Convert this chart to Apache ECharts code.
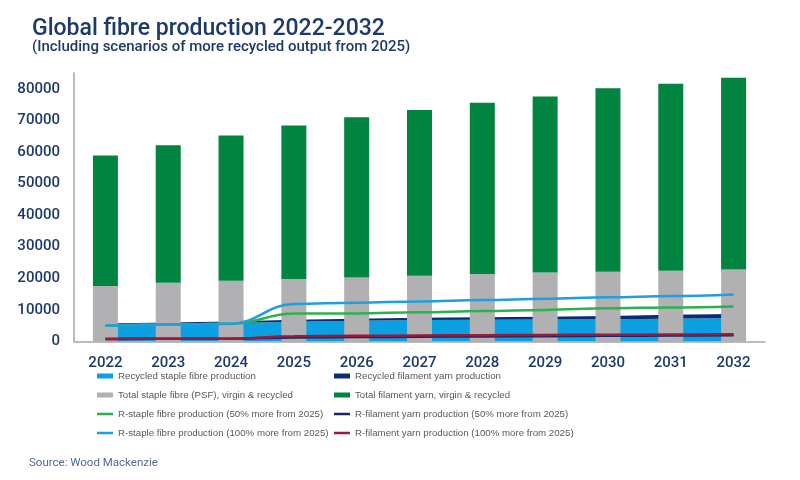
<!DOCTYPE html>
<html>
<head>
<meta charset="utf-8">
<script src="https://cdn.jsdelivr.net/npm/echarts@6/dist/echarts.min.js"></script>
<style>
  html, body { margin: 0; padding: 0; background: #fff; }
  #chart { width: 800px; height: 480px; }
</style>
</head>
<body>
<div id="chart"></div>
<script>
// categories
var years = ['2022', '2023', '2024', '2025', '2026', '2027', '2028', '2029', '2030', '2031', '2032'];

// bars (stacked): staple fibre at the bottom, filament yarn on top
var totalStaple = [17550, 18600, 19230, 19760, 20290, 20800, 21340, 21870, 22080, 22400, 22820];
var totalFilament = [41350, 43500, 45970, 48640, 50710, 52500, 54260, 55730, 58120, 59200, 60680];

// areas (stacked) behind the bars
var recStaple = [5500, 5630, 5850, 6270, 6580, 6800, 6900, 6950, 7010, 7220, 7400];
var recFilament = [200, 400, 450, 600, 650, 700, 750, 900, 1100, 1250, 1300];

// scenario lines
var rStaple50 = [5000, 5400, 5600, 8850, 8900, 9250, 9650, 10000, 10500, 10800, 11100];
var rFilament50 = [800, 850, 900, 1250, 1400, 1500, 1600, 1700, 1800, 1900, 1950];
var rStaple100 = [5000, 5400, 5600, 11900, 12300, 12700, 13100, 13500, 14000, 14400, 14900];
var rFilament100 = [800, 850, 900, 1650, 1800, 1900, 2000, 2050, 2150, 2200, 2280];

var yTicks = { min: 0, max: 85000, interval: 10000 };

var navy = '#1d3a6b';
var lineIcon = 'path://M0,0H16V2.5H0Z';

var names = {
    recStaple: 'Recycled staple fibre production',
    recFilament: 'Recycled filament yarn production',
    totStaple: 'Total staple fibre (PSF), virgin & recycled',
    totFilament: 'Total filament yarn, virgin & recycled',
    rs50: 'R-staple fibre production (50% more from 2025)',
    rf50: 'R-filament yarn production (50% more from 2025)',
    rs100: 'R-staple fibre production (100% more from 2025)',
    rf100: 'R-filament yarn production (100% more from 2025)'
};
var colors = {
    recStaple: '#0ba0e2',
    recFilament: '#0b2c6e',
    totStaple: '#b1b1b3',
    totFilament: '#00843f',
    rs50: '#2bb24c',
    rf50: '#14296a',
    rs100: '#1f9ee0',
    rf100: '#9b1a3a'
};

var legendText = {
    fontFamily: "'Liberation Sans', Arial, sans-serif",
    fontSize: 9.7,
    color: '#595959',
    lineHeight: 14
};

function legendItem(key, icon) {
    return { name: names[key], icon: icon, itemStyle: { color: colors[key] } };
}

var chart = echarts.init(document.getElementById('chart'));

var option = {
    animation: false,
    backgroundColor: '#fff',
    textStyle: { fontFamily: 'Roboto, sans-serif' },
    title: [{
        text: 'Global fibre production 2022-2032',
        left: 32,
        top: 18,
        padding: 0,
        textStyle: { fontSize: 23, fontWeight: 500, color: navy }
    }, {
        text: '(Including scenarios of more recycled output from 2025)',
        left: 32,
        top: 40,
        padding: 0,
        textStyle: { fontSize: 15, fontWeight: 500, color: navy }
    }, {
        text: 'Source: Wood Mackenzie',
        left: 29,
        top: 457,
        padding: 0,
        textStyle: { fontSize: 11.5, fontWeight: 400, color: '#4f6c99' }
    }],
    legend: [{
        orient: 'vertical',
        left: 92,
        top: 364,
        itemWidth: 16,
        itemHeight: 5,
        itemGap: 5,
        textStyle: legendText,
        data: [
            legendItem('recStaple', 'rect'),
            legendItem('totStaple', 'rect'),
            legendItem('rs50', lineIcon),
            legendItem('rs100', lineIcon)
        ]
    }, {
        orient: 'vertical',
        left: 329,
        top: 364,
        itemWidth: 16,
        itemHeight: 5,
        itemGap: 5,
        textStyle: legendText,
        data: [
            legendItem('recFilament', 'rect'),
            legendItem('totFilament', 'rect'),
            legendItem('rf50', lineIcon),
            legendItem('rf100', lineIcon)
        ]
    }],
    grid: { left: 74, right: 35, top: 73, bottom: 138.5 },
    xAxis: {
        type: 'category',
        data: years,
        axisLine: { lineStyle: { color: '#a6a6a6', width: 1.5 } },
        axisTick: { show: false },
        axisLabel: { fontSize: 15, fontWeight: 500, color: navy, margin: 14.5 }
    },
    yAxis: {
        type: 'value',
        min: yTicks.min,
        max: yTicks.max,
        interval: yTicks.interval,
        splitLine: { show: false },
        axisLine: { show: true, lineStyle: { color: '#a6a6a6', width: 1.5 } },
        axisTick: { show: false },
        axisLabel: {
            fontSize: 15,
            fontWeight: 500,
            color: navy,
            margin: 14,
            showMaxLabel: false,
            formatter: function (v) { return String(v); }
        }
    },
    series: [{
        name: names.recStaple,
        type: 'line',
        stack: 'recycled',
        z: 1,
        symbol: 'none',
        data: recStaple,
        itemStyle: { color: colors.recStaple },
        lineStyle: { width: 0 },
        areaStyle: { color: colors.recStaple, opacity: 1 }
    }, {
        name: names.recFilament,
        type: 'line',
        stack: 'recycled',
        z: 1,
        symbol: 'none',
        data: recFilament,
        itemStyle: { color: colors.recFilament },
        lineStyle: { width: 0 },
        areaStyle: { color: colors.recFilament, opacity: 1 }
    }, {
        name: names.totStaple,
        type: 'bar',
        stack: 'total',
        z: 2,
        barWidth: 25,
        data: totalStaple,
        itemStyle: { color: colors.totStaple }
    }, {
        name: names.totFilament,
        type: 'bar',
        stack: 'total',
        z: 2,
        barWidth: 25,
        data: totalFilament,
        itemStyle: { color: colors.totFilament }
    }, {
        name: names.rf50,
        type: 'line',
        z: 3,
        symbol: 'none',
        smooth: 0.4,
        smoothMonotone: 'x',
        data: rFilament50,
        itemStyle: { color: colors.rf50 },
        lineStyle: { width: 2.5, color: colors.rf50 }
    }, {
        name: names.rf100,
        type: 'line',
        z: 3,
        symbol: 'none',
        smooth: 0.4,
        smoothMonotone: 'x',
        data: rFilament100,
        itemStyle: { color: colors.rf100 },
        lineStyle: { width: 2.5, color: colors.rf100 }
    }, {
        name: names.rs50,
        type: 'line',
        z: 3,
        symbol: 'none',
        smooth: 0.4,
        smoothMonotone: 'x',
        data: rStaple50,
        itemStyle: { color: colors.rs50 },
        lineStyle: { width: 2.5, color: colors.rs50 }
    }, {
        name: names.rs100,
        type: 'line',
        z: 3,
        symbol: 'none',
        smooth: 0.4,
        smoothMonotone: 'x',
        data: rStaple100,
        itemStyle: { color: colors.rs100 },
        lineStyle: { width: 2.5, color: colors.rs100 }
    }]
};

chart.setOption(option);
</script>
</body>
</html>
